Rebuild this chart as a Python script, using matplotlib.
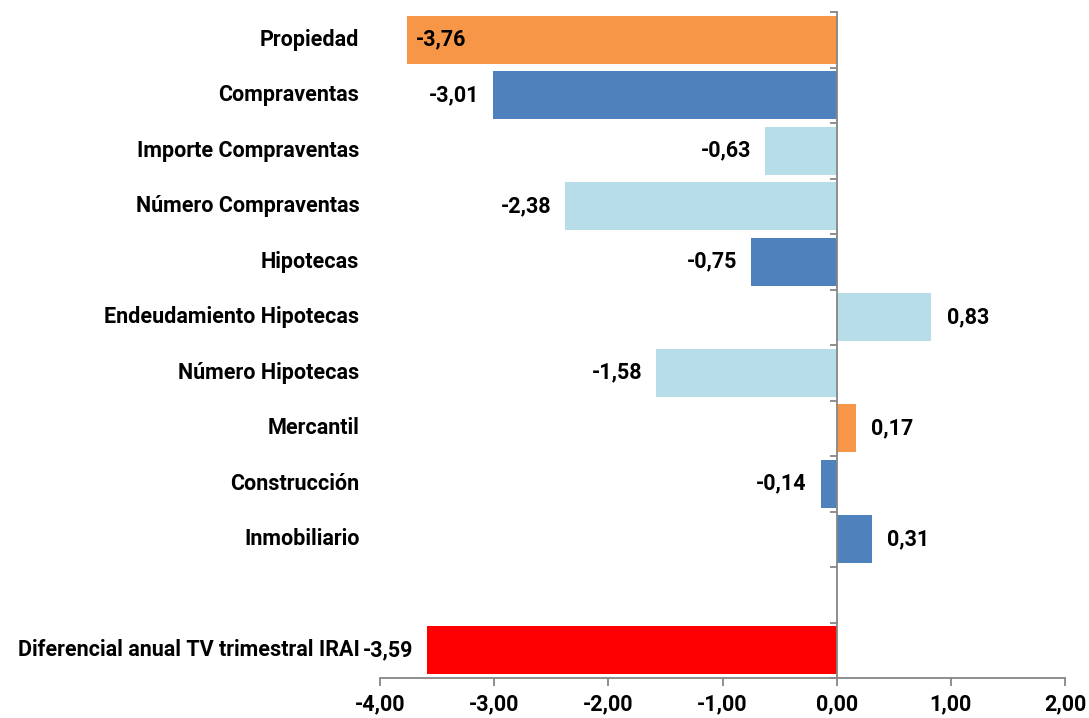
import numpy as np
import matplotlib.pyplot as plt

categories = ["Propiedad", "Compraventas", "Importe Compraventas", "Número Compraventas",
              "Hipotecas", "Endeudamiento Hipotecas", "Número Hipotecas", "Mercantil",
              "Construcción", "Inmobiliario", "", "Diferencial anual TV trimestral IRAI"]
values = [-3.76, -3.01, -0.63, -2.38, -0.75, 0.83, -1.58, 0.17, -0.14, 0.31, np.nan, -3.59]
colors = ["#F79646", "#4F81BD", "#B7DEE8", "#B7DEE8", "#4F81BD", "#B7DEE8", "#B7DEE8",
          "#F79646", "#4F81BD", "#4F81BD", "white", "#FF0000"]
xticks = [-4, -3, -2, -1, 0, 1, 2]

plt.rcParams['font.family'] = ['Roboto', 'DejaVu Sans']
plt.rcParams['font.weight'] = 'bold'
FS = 15.5

fig = plt.figure(figsize=(10.89, 7.18), dpi=100)
ax = fig.add_axes([380 / 1089, 40 / 718, 685 / 1089, 666 / 718])

y = np.arange(len(categories))
vals = np.nan_to_num(values)
ax.barh(y, vals, height=0.87, color=colors, zorder=2)
ax.set_ylim(len(categories) - 0.5, -0.5)
ax.set_xlim(-4, 2)

axis_col = "#868686"
for s in ["top", "right"]:
    ax.spines[s].set_visible(False)
ax.spines["left"].set_position(("data", 0))
ax.spines["left"].set_color(axis_col)
ax.spines["left"].set_linewidth(1.3)
ax.spines["left"].set_zorder(3)
ax.spines["bottom"].set_color(axis_col)
ax.spines["bottom"].set_linewidth(1.3)

ax.set_yticks(np.arange(len(categories) + 1) - 0.5)
ax.set_yticklabels([])
ax.tick_params(axis="y", length=5, width=1.3, color=axis_col, direction="out")
ax.set_xticks(xticks)
ax.set_xticklabels([f"{t:.2f}".replace(".", ",") for t in xticks], fontsize=FS, fontweight="bold")
ax.tick_params(axis="x", length=6, width=1.3, color=axis_col, direction="out", pad=5)

trans = ax.get_yaxis_transform()
for yi, cat in zip(y, categories):
    ax.text(-0.03, yi, cat, transform=trans, ha="right", va="center",
            fontsize=FS, fontweight="bold")

for yi, v in zip(y, values):
    if np.isnan(v):
        continue
    lbl = f"{v:.2f}".replace(".", ",")
    if v >= 0:
        ax.annotate(lbl, (v, yi), xytext=(11, 0), textcoords="offset points",
                    ha="left", va="center", fontsize=FS, fontweight="bold")
    elif v - 0.4 < -4:
        # no room outside: Excel puts it inside the bar
        ax.annotate(lbl, (v, yi), xytext=(6, 0), textcoords="offset points",
                    ha="left", va="center", fontsize=FS, fontweight="bold")
    else:
        ax.annotate(lbl, (v, yi), xytext=(-10, 0), textcoords="offset points",
                    ha="right", va="center", fontsize=FS, fontweight="bold")

fig.savefig("out.png", dpi=100)
